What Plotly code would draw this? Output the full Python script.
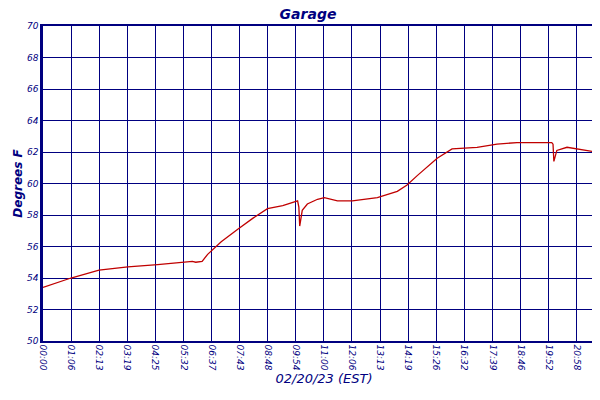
import plotly.graph_objects as go

# minutes since midnight, temperature in F
minutes = [0, 66, 132, 200, 270, 330, 352, 360, 375, 388, 420, 459, 495, 529, 565, 600, 603, 605, 611, 623, 647, 663,
           694, 729, 788, 835, 858, 882, 929, 964, 988, 1023, 1070, 1117, 1199, 1202, 1204, 1211, 1235, 1282, 1324]
temps = [53.4, 54.0, 54.5, 54.7, 54.85, 55.0, 55.05, 55.0, 55.05, 55.5, 56.3, 57.1, 57.8, 58.4, 58.6, 58.9, 58.5, 57.3,
         58.3, 58.7, 59.0, 59.1, 58.9, 58.9, 59.1, 59.5, 59.9, 60.5, 61.6, 62.2, 62.25, 62.3, 62.5, 62.6, 62.6, 62.5,
         61.4, 62.1, 62.3, 62.1, 61.9]
tick_labels = ["00:00", "01:06", "02:13", "03:19", "04:25", "05:32", "06:37", "07:43", "08:48", "09:54", "11:00",
               "12:06", "13:13", "14:19", "15:26", "16:32", "17:39", "18:46", "19:52", "20:58", "22:04"]
tick_vals = [round(i * 1324 / 20, 2) for i in range(len(tick_labels))]

navy = "#000080"
font = "DejaVu Sans"

fig = go.Figure()
fig.add_trace(go.Scatter(x=minutes, y=temps, mode="lines", name="Garage",
                         line=dict(color="#c00000", width=1.3)))

fig.update_layout(
    width=600, height=400,
    margin=dict(l=35, r=3, t=18, b=67, autoexpand=False),
    paper_bgcolor="white", plot_bgcolor="white",
    title=dict(text="<b><i>Garage</i></b>", x=0.5, y=0.998, yanchor="top",
               font=dict(family=font, size=14, color=navy)),
    font=dict(family=font, color=navy),
    showlegend=True,
    legend=dict(orientation="h", x=0.5, xanchor="center", y=-0.16, yanchor="top",
                font=dict(size=10, color=navy)),
)
fig.update_xaxes(range=[0, 1324.5], tickvals=tick_vals, ticktext=[f"<i>{t}</i>" for t in tick_labels],
                 tickangle=90, tickfont=dict(size=9, color=navy), automargin=False,
                 showgrid=True, gridcolor=navy, gridwidth=1.3, zeroline=False,
                 showline=True, linecolor=navy, linewidth=1.5, mirror=True,
                 title=dict(text="<i>02/20/23 (EST)</i>", font=dict(size=13, color=navy), standoff=2))
fig.update_yaxes(range=[50, 70], tickvals=list(range(50, 71, 2)),
                 ticktext=[f"<i>{v}</i>" for v in range(50, 71, 2)],
                 tickfont=dict(size=9, color=navy), automargin=False,
                 showgrid=True, gridcolor=navy, gridwidth=1.3, zeroline=False,
                 showline=True, linecolor=navy, linewidth=2.5, mirror=True,
                 title=dict(text="<b><i>Degrees F</i></b>", font=dict(size=12, color=navy), standoff=2))

fig.write_html("out.html")
